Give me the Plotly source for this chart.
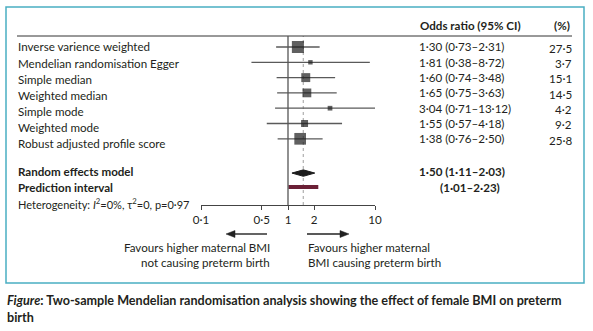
import plotly.graph_objects as go
import numpy as np

# ---------------- data ----------------
methods = ["Inverse varience weighted", "Mendelian randomisation Egger", "Simple median",
           "Weighted median", "Simple mode", "Weighted mode", "Robust adjusted profile score"]
odds = [1.30, 1.81, 1.60, 1.65, 3.04, 1.55, 1.38]
ci_lo = [0.73, 0.38, 0.74, 0.75, 0.71, 0.57, 0.76]
ci_hi = [2.31, 8.72, 3.48, 3.63, 13.12, 4.18, 2.50]
weights = [27.5, 3.7, 15.1, 14.5, 4.2, 9.2, 25.8]

re_est, re_lo, re_hi = 1.50, 1.11, 2.03
pi_lo, pi_hi = 1.01, 2.23
heterogeneity = "Heterogeneity: <i>I</i><sup>2</sup>=0%, τ<sup>2</sup>=0, p=0·97"

tick_vals = [0.1, 0.5, 1, 2, 10]
tick_text = ["0·1", "0·5", "1", "2", "10"]

# ---------------- layout helpers ----------------
W, H = 593, 331
FONT = "Lato"
TXT = "#231f20"
FS = 11.6

def px(x):
    return x / W

def py(y):
    return 1 - y / H

def fmt(v):
    return f"{v:.2f}".replace(".", "·")

def fmt1(v):
    return f"{v:.1f}".replace(".", "·")

row_top_px, row_step = 47, 15.3
ax_top_px, ax_bot_px = 36, 205
re_row, pi_row = 8.24, 9.15

fig = go.Figure()

rows = list(range(len(methods)))

# CI lines
xs, ys = [], []
for i, (lo, hi) in enumerate(zip(ci_lo, ci_hi)):
    xs += [lo, hi, None]
    ys += [i, i, None]
fig.add_trace(go.Scatter(x=xs, y=ys, mode="lines", line=dict(color="#5a5a5a", width=1.3),
                         hoverinfo="skip", showlegend=False))

# squares
fig.add_trace(go.Scatter(x=odds, y=rows, mode="markers",
                         marker=dict(symbol="square", color="#1c1c1c",
                                     size=[2.3 * np.sqrt(w) for w in weights], line=dict(width=0)),
                         hoverinfo="skip", showlegend=False))

# diamond
h = 0.21
fig.add_trace(go.Scatter(x=[re_lo, re_est, re_hi, re_est, re_lo],
                         y=[re_row, re_row - h, re_row, re_row + h, re_row],
                         mode="lines", fill="toself", fillcolor="#1c1c1c",
                         line=dict(color="#1c1c1c", width=1), hoverinfo="skip", showlegend=False))

# prediction interval
fig.add_trace(go.Scatter(x=[pi_lo, pi_hi], y=[pi_row, pi_row], mode="lines",
                         line=dict(color="#6b2036", width=4), hoverinfo="skip", showlegend=False))

# axis geometry
y_range = [(ax_bot_px - row_top_px) / row_step, (ax_top_px - row_top_px) / row_step]
fig.update_layout(
    width=W, height=H, margin=dict(l=0, r=0, t=0, b=0),
    paper_bgcolor="white", plot_bgcolor="white",
    font=dict(family=FONT, size=FS, color=TXT),
    xaxis=dict(type="log", range=[-1, 1], domain=[px(201), px(375)],
               showline=True, linecolor="#444", linewidth=1, ticks="outside", ticklen=4,
               tickcolor="#444", tickvals=tick_vals, ticktext=tick_text, showgrid=False,
               zeroline=False, automargin=False, tickfont=dict(size=FS, color=TXT, family=FONT)),
    yaxis=dict(range=y_range, domain=[py(ax_bot_px), py(ax_top_px)], visible=False,
               showgrid=False, zeroline=False),
    hovermode=False,
)

shapes = []
# outer box
shapes.append(dict(type="rect", xref="paper", yref="paper", x0=px(6), x1=px(584), y0=py(283), y1=py(7),
                   line=dict(color="#4aaec2", width=1.5)))
# header line
shapes.append(dict(type="line", xref="paper", yref="paper", x0=px(17), x1=px(572), y0=py(36), y1=py(36),
                   line=dict(color="#333", width=1)))
# null line
shapes.append(dict(type="line", xref="x", yref="y domain", x0=1, x1=1, y0=0, y1=1,
                   line=dict(color="#555", width=1.3)))
# summary dotted line
shapes.append(dict(type="line", xref="x", yref="y domain", x0=re_est, x1=re_est, y0=0, y1=1,
                   line=dict(color="#b5b5b5", width=1.3, dash="dot"), layer="below"))

# direction arrows (shaft + filled head)
def arrow(tail, head, y):
    d = 1 if head > tail else -1
    hl, hw = 9, 3.5
    shapes.append(dict(type="line", xref="paper", yref="paper", x0=px(tail), x1=px(head - d * hl),
                       y0=py(y), y1=py(y), line=dict(color="#222", width=1.4)))
    path = (f"M {px(head)},{py(y)} L {px(head - d * hl)},{py(y - hw)} "
            f"L {px(head - d * hl)},{py(y + hw)} Z")
    shapes.append(dict(type="path", xref="paper", yref="paper", path=path,
                       fillcolor="#222", line=dict(color="#222", width=0.5)))

arrow(267, 226, 234)
arrow(307, 349, 234)
fig.update_layout(shapes=shapes)

ann = []

def text(x, y, t, xanchor="left", yref="paper", size=FS, color=TXT):
    ann.append(dict(x=x, y=y, xref="paper", yref=yref, text=t, showarrow=False,
                    xanchor=xanchor, yanchor="middle", font=dict(size=size, color=color, family=FONT)))

# headers
text(px(418), py(25), "<b>Odds ratio (95% CI)</b>")
text(px(572), py(25), "<b>(%)</b>", xanchor="right")

for i, m in enumerate(methods):
    text(px(16), i + 0.05 * i, m, yref="y")
    text(px(417), i, f"{fmt(odds[i])} ({fmt(ci_lo[i])}–{fmt(ci_hi[i])})", yref="y")
    text(px(574), i + 0.08, fmt1(weights[i]), xanchor="right", yref="y")

text(px(16), re_row - 0.08, "<b>Random effects model</b>", yref="y")
text(px(16), pi_row, "<b>Prediction interval</b>", yref="y")
text(px(16), py(203), heterogeneity, size=11)
text(px(417), re_row - 0.08, f"<b>{fmt(re_est)} ({fmt(re_lo)}–{fmt(re_hi)})</b>", yref="y")
text(px(502), pi_row, f"<b>({fmt(pi_lo)}–{fmt(pi_hi)})</b>", xanchor="right", yref="y")

text(px(272), py(247), "Favours higher maternal BMI", xanchor="right")
text(px(272), py(262), "not causing preterm birth", xanchor="right")
text(px(306), py(247), "Favours higher maternal")
text(px(306), py(262), "BMI causing preterm birth")

# caption
text(px(5), py(300), "<b><i>Figure</i>: Two-sample Mendelian randomisation analysis showing the effect of female BMI on preterm</b>", size=12.6)
text(px(5), py(317), "<b>birth</b>", size=12.6)

fig.update_layout(annotations=ann)
fig.write_html("out.html")
